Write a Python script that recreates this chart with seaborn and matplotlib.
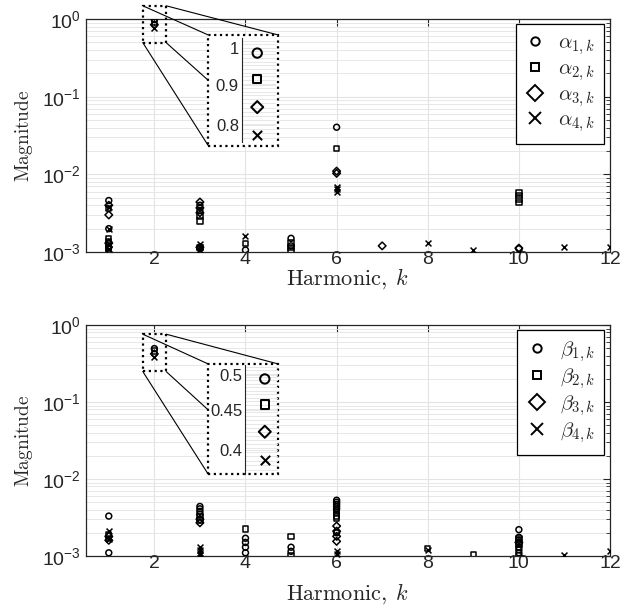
import numpy as np
import pandas as pd
import matplotlib
matplotlib.use('Agg')
import matplotlib.pyplot as plt
import seaborn as sns
from matplotlib.lines import Line2D
from matplotlib.patches import Rectangle, ConnectionPatch
from matplotlib.ticker import FixedLocator, NullFormatter, LogLocator, NullLocator

sns.set_theme(style='white')
plt.rcParams['font.family'] = ['Liberation Sans', 'DejaVu Sans']
plt.rcParams['mathtext.fontset'] = 'cm'

# ---------------- data ----------------
harmonic_ticks = [2, 4, 6, 8, 10, 12]
ytick_vals = [1e-3, 1e-2, 1e-1, 1e0]
ytick_labels = [r'$\mathregular{10^{-3}}$', r'$\mathregular{10^{-2}}$',
                r'$\mathregular{10^{-1}}$', r'$\mathregular{10^{0}}$']

alpha_names = [r'$\alpha_{1,k}$', r'$\alpha_{2,k}$', r'$\alpha_{3,k}$', r'$\alpha_{4,k}$']
beta_names = [r'$\beta_{1,k}$', r'$\beta_{2,k}$', r'$\beta_{3,k}$', r'$\beta_{4,k}$']

a1_k = [1, 1, 1, 2, 3, 3, 3, 4, 5, 5, 6, 10]
a1_v = [4.6e-3, 2.0e-3, 1.15e-3, 0.986, 4.0e-3, 3.4e-3, 1.1e-3, 1.06e-3, 1.5e-3, 1.2e-3, 0.0404, 1.1e-3]
a2_k = [1, 1, 1, 1, 1, 1, 2, 3, 3, 3, 4, 5, 5, 5, 6, 10, 10, 10, 10]
a2_v = [3.6e-3, 1.5e-3, 1.35e-3, 1.2e-3, 1.1e-3, 1.02e-3, 0.914, 2.9e-3, 2.5e-3, 1.15e-3,
        1.29e-3, 1.3e-3, 1.15e-3, 1.05e-3, 0.0217, 5.8e-3, 5.3e-3, 4.8e-3, 4.3e-3]
a3_k = [1, 1, 1, 2, 3, 3, 3, 3, 6, 6, 7, 10]
a3_v = [4.0e-3, 3.0e-3, 1.3e-3, 0.843, 4.4e-3, 3.7e-3, 3.2e-3, 1.15e-3, 0.0110, 0.0103, 1.2e-3, 1.12e-3]
a4_k = [1, 1, 1, 1, 2, 3, 3, 3, 4, 6, 6, 6, 8, 9, 10, 11, 12]
a4_v = [3.8e-3, 2.0e-3, 1.25e-3, 1.1e-3, 0.777, 1.25e-3, 1.15e-3, 1.05e-3, 1.6e-3,
        6.8e-3, 6.4e-3, 6.0e-3, 1.29e-3, 1.06e-3, 1.0e-3, 1.17e-3, 1.17e-3]

b1_k = [1, 1, 2, 3, 3, 3, 3, 4, 4, 4, 4, 5, 5, 6, 6, 6, 6, 6, 6, 10, 10, 10, 10, 10, 10, 10, 10]
b1_v = [3.3e-3, 1.1e-3, 0.494, 4.4e-3, 4.1e-3, 3.8e-3, 3.5e-3, 1.7e-3, 1.5e-3, 1.3e-3, 1.1e-3,
        1.3e-3, 1.15e-3, 5.3e-3, 5.0e-3, 4.7e-3, 4.4e-3, 4.1e-3, 2.0e-3,
        2.2e-3, 1.75e-3, 1.6e-3, 1.45e-3, 1.3e-3, 1.2e-3, 1.1e-3, 1.02e-3]
b2_k = [1, 1, 2, 3, 3, 4, 5, 5, 6, 6, 6, 6, 8, 9, 10, 10]
b2_v = [1.9e-3, 1.7e-3, 0.458, 3.2e-3, 2.9e-3, 2.25e-3, 1.8e-3, 1.02e-3,
        3.9e-3, 3.6e-3, 3.3e-3, 3.1e-3, 1.26e-3, 1.05e-3, 1.7e-3, 1.4e-3]
b3_k = [1, 1, 2, 3, 3, 6, 6, 6, 6, 10]
b3_v = [1.8e-3, 1.6e-3, 0.422, 3.0e-3, 2.7e-3, 2.45e-3, 2.1e-3, 1.8e-3, 1.55e-3, 1.5e-3]
b4_k = [1, 1, 2, 3, 3, 3, 3, 6, 6, 8, 11, 12]
b4_v = [2.1e-3, 1.65e-3, 0.388, 1.3e-3, 1.2e-3, 1.1e-3, 1.02e-3, 1.15e-3, 1.05e-3, 1.2e-3, 1.03e-3, 1.16e-3]

inset_top_ticks = [0.8, 0.9, 1.0]
inset_top_labels = ['0.8', '0.9', '1']
inset_bot_ticks = [0.4, 0.45, 0.5]
inset_bot_labels = ['0.4', '0.45', '0.5']

# ---------------- helpers ----------------
W, H = 624, 614
fig = plt.figure(figsize=(W / 100, H / 100), dpi=100)
fig.patch.set_facecolor('white')

EDGE = '#262626'
GRID = '#e3e3e3'


def px(x, y):
    return (x / W, 1 - y / H)


def make_df(ks, vs, names):
    frames = []
    for k, v, n in zip(ks, vs, names):
        frames.append(pd.DataFrame({'k': k, 'value': v, 'series': n}))
    return pd.concat(frames, ignore_index=True)


def draw_points(ax, df, names, scale=1.0):
    specs = [('o', 18), ('s', 15), ('D', 15), ('x', 18)]
    lw = 1.1 * max(1, scale ** 0.3)
    for n, (m, s) in zip(names, specs):
        sub = df[df['series'] == n]
        if m == 'x':
            sns.scatterplot(data=sub, x='k', y='value', marker='x', s=s * scale,
                            color='black', linewidth=lw, ax=ax, legend=False, zorder=3)
        else:
            sns.scatterplot(data=sub, x='k', y='value', marker=m, s=s * scale,
                            facecolor='none', edgecolor='black', linewidth=lw,
                            ax=ax, legend=False, zorder=3)


def style_main(ax, xlabelpad):
    ax.set_yscale('log')
    ax.set_xlim(0.5, 12)
    ax.set_ylim(1e-3, 1)
    ax.set_xticks(harmonic_ticks)
    ax.set_xticklabels([str(t) for t in harmonic_ticks], fontsize=14, color=EDGE)
    ax.set_yticks(ytick_vals)
    ax.set_yticklabels(ytick_labels, fontsize=14, color=EDGE)
    ax.yaxis.set_minor_locator(LogLocator(base=10, subs=np.arange(2, 10)))
    ax.yaxis.set_minor_formatter(NullFormatter())
    ax.xaxis.set_minor_locator(NullLocator())
    ax.tick_params(which='both', direction='in', top=True, right=True, color=EDGE)
    ax.tick_params(which='major', length=5, width=0.8)
    ax.tick_params(which='minor', length=3, width=0.6)
    ax.tick_params(axis='x', which='major', pad=-1)
    ax.tick_params(axis='y', which='major', pad=4)
    ax.grid(True, which='major', color=GRID, linewidth=0.8)
    ax.grid(True, which='minor', axis='y', color=GRID, linewidth=0.6)
    ax.set_axisbelow(True)
    for sp in ax.spines.values():
        sp.set_visible(True)
        sp.set_color(EDGE)
        sp.set_linewidth(0.9)
    ax.set_xlabel(r'$\mathrm{Harmonic,}\;k$', fontsize=16, labelpad=xlabelpad)
    ax.set_ylabel(r'$\mathrm{Magnitude}$', fontsize=14, labelpad=5)


def add_legend(ax, names, anchor):
    specs = [('o', 6), ('s', 6), ('D', 8), ('x', 8)]
    handles = []
    for n, (m, ms) in zip(names, specs):
        if m == 'x':
            handles.append(Line2D([], [], linestyle='none', marker='x', markersize=ms,
                                  color='black', markeredgewidth=1.4, label=n))
        else:
            handles.append(Line2D([], [], linestyle='none', marker=m, markersize=ms,
                                  markerfacecolor='none', markeredgecolor='black',
                                  markeredgewidth=1.4, label=n))
    leg = ax.legend(handles=handles, loc='upper right', bbox_to_anchor=anchor,
                    borderaxespad=0, fontsize=15, frameon=True, fancybox=False,
                    framealpha=1, edgecolor='black', labelspacing=0.1,
                    handletextpad=0.6, handlelength=1.0, borderpad=0.45)
    leg.get_frame().set_linewidth(0.9)
    leg.set_zorder(5)


def add_inset(ax, df, names, in_rect, box_px, src_x, src_y, ylim, ticks, labels,
              minor_step, join_frac, xlim):
    x0, y0, x1, y1 = box_px
    bl = px(x0, y1)
    bw = (x1 - x0) / W
    bh = (y1 - y0) / H
    fig.add_artist(Rectangle(bl, bw, bh, transform=fig.transFigure,
                             facecolor='white', edgecolor='black', linestyle=(0, (1, 1.6)),
                             linewidth=1.6, zorder=4))
    axin = fig.add_axes(in_rect, zorder=6)
    axin.patch.set_alpha(0)
    sub = df[df['k'] == 2]
    draw_points(axin, sub, names, scale=2.5)
    axin.set_yscale('log')
    axin.set_ylim(*ylim)
    axin.set_xlim(*xlim)
    axin.set_yticks(ticks)
    axin.set_yticklabels(labels, fontsize=12, color=EDGE)
    axin.yaxis.set_minor_locator(FixedLocator(np.arange(ylim[0], ylim[1], minor_step)))
    axin.yaxis.set_minor_formatter(NullFormatter())
    axin.set_xticks([])
    axin.tick_params(which='both', direction='in', color=EDGE, pad=2)
    axin.tick_params(which='major', length=4)
    axin.tick_params(which='minor', length=2)
    axin.grid(True, which='both', axis='y', color=GRID, linewidth=0.6)
    for name, sp in axin.spines.items():
        sp.set_visible(name == 'left')
        sp.set_color(EDGE)
        sp.set_linewidth(0.8)
    axin.set_xlabel('')
    axin.set_ylabel('')

    sx0, sx1 = src_x
    sy0, sy1 = src_y
    ax.add_patch(Rectangle((sx0, sy0), sx1 - sx0, sy1 - sy0, transform=ax.transData,
                           fill=False, edgecolor='black', linestyle=(0, (1, 1.6)),
                           linewidth=1.6, clip_on=False, zorder=4))
    joins = [((sx0, sy1), px(x0, y0)),
             ((sx1, sy1), px(x1, y0)),
             ((sx1, sy0), px(x0, y0 + join_frac * (y1 - y0))),
             ((sx0, sy0), px(x0, y1))]
    for a, b in joins:
        cp = ConnectionPatch(xyA=a, coordsA=ax.transData, xyB=b, coordsB=fig.transFigure,
                             color='black', linewidth=0.8, zorder=3.5)
        fig.add_artist(cp)


# ---------------- top panel ----------------
df_a = make_df([a1_k, a2_k, a3_k, a4_k], [a1_v, a2_v, a3_v, a4_v], alpha_names)
ax1 = fig.add_axes([86 / W, 1 - 252 / H, 524 / W, 233 / H])
draw_points(ax1, df_a, alpha_names)
style_main(ax1, -1)
add_legend(ax1, alpha_names, ((604.3 - 86) / 524, (252 - 24.3) / 233))
add_inset(ax1, df_a, alpha_names,
          [241.7 / W, 1 - 142 / H, 34.5 / W, 104 / H],
          (208.3, 35, 278.3, 145.7),
          (1.746, 2.258), (0.497, 1.48),
          (0.762, 1.03), inset_top_ticks, inset_top_labels, 0.01, 0.41,
          (1.91, 2.11))

# ---------------- bottom panel ----------------
df_b = make_df([b1_k, b2_k, b3_k, b4_k], [b1_v, b2_v, b3_v, b4_v], beta_names)
ax2 = fig.add_axes([86 / W, 1 - 556 / H, 524 / W, 231 / H])
draw_points(ax2, df_b, beta_names)
style_main(ax2, 7)
add_legend(ax2, beta_names, ((604.3 - 86) / 524, (556 - 330) / 231))
add_inset(ax2, df_b, beta_names,
          [245 / W, 1 - 474 / H, 33 / W, 109 / H],
          (208.3, 364, 278.3, 474.3),
          (1.746, 2.258), (0.249, 0.76),
          (0.372, 0.515), inset_bot_ticks, inset_bot_labels, 0.005, 0.417,
          (1.88, 2.08))

fig.savefig('out.png', dpi=100, facecolor='white')
